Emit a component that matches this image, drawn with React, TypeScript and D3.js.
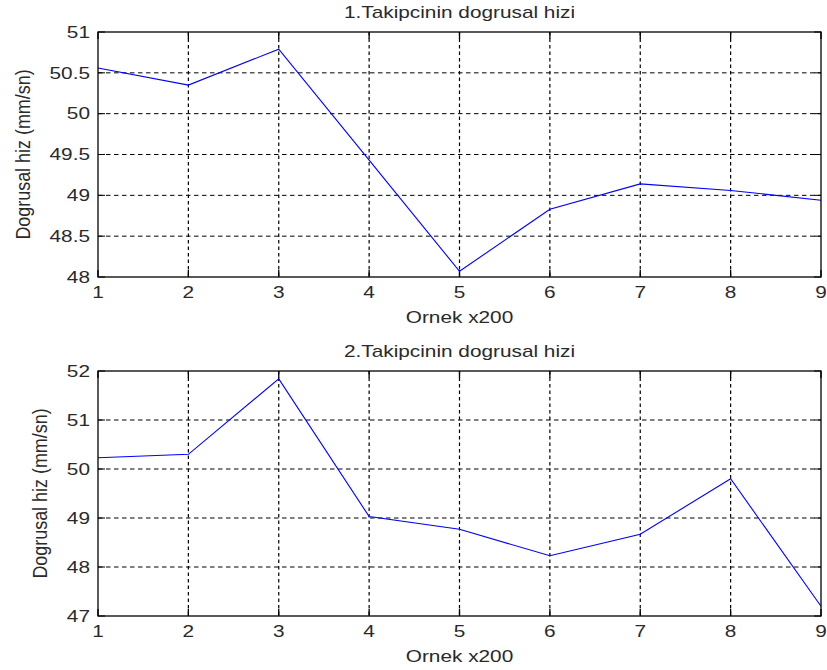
import React from "react";
import * as d3 from "d3";

// sample index (x200)
const samples = [1, 2, 3, 4, 5, 6, 7, 8, 9];

// linear speed of follower 1 and 2 (mm/sn)
const speed1 = [50.56, 50.35, 50.79, 49.43, 48.07, 48.83, 49.14, 49.06, 48.94];
const speed2 = [50.23, 50.3, 51.84, 49.03, 48.77, 48.23, 48.67, 49.8, 47.2];

const yTicks1 = [48, 48.5, 49, 49.5, 50, 50.5, 51];
const yTicks2 = [47, 48, 49, 50, 51, 52];

const titles = ["1.Takipcinin dogrusal hizi", "2.Takipcinin dogrusal hizi"];
const xLabel = "Ornek x200";
const yLabel = "Dogrusal hiz (mm/sn)";

const FONT = "'Liberation Sans', Arial, Helvetica, sans-serif";
const SX = 1.3; // text is stretched horizontally in the reference
const TXT = "#2a2a2a";

type PanelProps = {
  values: number[];
  yTicks: number[];
  title: string;
  top: number;
  bottom: number;
  yLabelX: number;
};

function Panel({ values, yTicks, title, top, bottom, yLabelX }: PanelProps) {
  const left = 98;
  const right = 821;
  const tick = 7;

  const x = d3.scaleLinear().domain([1, 9]).range([left, right]);
  const y = d3
    .scaleLinear()
    .domain([d3.min(yTicks)!, d3.max(yTicks)!])
    .range([bottom, top]);

  const line = d3
    .line<number>()
    .x((d, i) => x(samples[i]))
    .y((d) => y(d));

  const yFmt = (v: number) => (Number.isInteger(v) ? String(v) : v.toFixed(1));

  return (
    <g>
      {/* grid */}
      {samples.slice(1, -1).map((s) => (
        <line
          key={"gx" + s}
          x1={x(s)}
          x2={x(s)}
          y1={top}
          y2={bottom}
          stroke="#000"
          strokeWidth={1.2}
          strokeDasharray="3.5,3"
        />
      ))}
      {yTicks.slice(1, -1).map((t) => (
        <line
          key={"gy" + t}
          x1={left}
          x2={right}
          y1={y(t)}
          y2={y(t)}
          stroke="#000"
          strokeWidth={1}
          strokeDasharray="4.5,3.5"
        />
      ))}

      {/* ticks inside, all four sides */}
      {samples.map((s) => (
        <g key={"tx" + s}>
          <line x1={x(s)} x2={x(s)} y1={bottom} y2={bottom - tick} stroke="#000" strokeWidth={1.3} />
          <line x1={x(s)} x2={x(s)} y1={top} y2={top + tick} stroke="#000" strokeWidth={1.3} />
        </g>
      ))}
      {yTicks.map((t) => (
        <g key={"ty" + t}>
          <line x1={left} x2={left + tick} y1={y(t)} y2={y(t)} stroke="#000" strokeWidth={1} />
          <line x1={right} x2={right - tick} y1={y(t)} y2={y(t)} stroke="#000" strokeWidth={1} />
        </g>
      ))}

      {/* data line */}
      <path d={line(values) ?? ""} fill="none" stroke="#0000ff" strokeWidth={1.1} />

      {/* frame */}
      <rect
        x={left}
        y={top}
        width={right - left}
        height={bottom - top}
        fill="none"
        stroke="#000"
        strokeWidth={1.3}
      />

      {/* tick labels */}
      {samples.map((s) => (
        <text
          key={"lx" + s}
          transform={`translate(${x(s)},${bottom + 21}) scale(${SX},1)`}
          textAnchor="middle"
          fontSize={16}
          fill={TXT}
        >
          {s}
        </text>
      ))}
      {yTicks.map((t) => (
        <text
          key={"ly" + t}
          transform={`translate(90,${y(t) + 5.8}) scale(${SX},1)`}
          textAnchor="end"
          fontSize={16}
          fill={TXT}
        >
          {yFmt(t)}
        </text>
      ))}

      {/* title and axis labels */}
      <text
        transform={`translate(${(left + right) / 2},${top - 14.5}) scale(${SX},1)`}
        textAnchor="middle"
        fontSize={16}
        fill={TXT}
      >
        {title}
      </text>
      <text
        transform={`translate(${(left + right) / 2},${bottom + 46}) scale(${SX},1)`}
        textAnchor="middle"
        fontSize={16}
        fill={TXT}
      >
        {xLabel}
      </text>
      <text
        transform={`translate(${yLabelX},${(top + bottom) / 2}) scale(${SX},1) rotate(-90) scale(1.12,1)`}
        textAnchor="middle"
        fontSize={16}
        fill={TXT}
      >
        {yLabel}
      </text>
    </g>
  );
}

export default function App() {
  return (
    <svg
      width={827}
      height={670}
      style={{ position: "absolute", left: 0, top: 0, background: "#fff", fontFamily: FONT }}
    >
      <rect width={827} height={670} fill="#fff" />
      <Panel values={speed1} yTicks={yTicks1} title={titles[0]} top={32} bottom={277} yLabelX={30} />
      <Panel values={speed2} yTicks={yTicks2} title={titles[1]} top={371} bottom={616} yLabelX={47} />
    </svg>
  );
}
